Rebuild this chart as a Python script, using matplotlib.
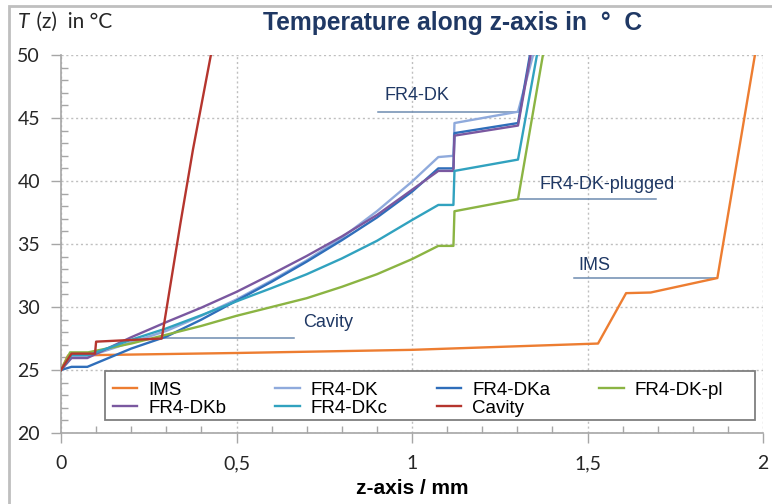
import matplotlib
matplotlib.use("Agg")
import matplotlib.pyplot as plt
from matplotlib.patches import Rectangle
from matplotlib.ticker import MultipleLocator

# ---------------- data ----------------
ims_z = [0, 0.02, 0.5, 1.0, 1.53, 1.61, 1.68, 1.87, 1.977]
ims_t = [25, 26.15, 26.35, 26.6, 27.1, 31.1, 31.15, 32.3, 50]

dk_z = [0, 0.03, 0.08, 0.2, 0.3, 0.4, 0.5, 0.6, 0.7, 0.8, 0.9, 1.0, 1.075, 1.118, 1.121, 1.302, 1.345]
dk_t = [25, 26.1, 26.1, 27.2, 28.1, 29.3, 30.6, 32.1, 33.7, 35.5, 37.6, 39.95, 41.9, 42.0, 44.6, 45.5, 50]

dka_z = [0, 0.03, 0.075, 0.2, 0.3, 0.4, 0.5, 0.6, 0.7, 0.8, 0.9, 1.0, 1.075, 1.118, 1.121, 1.302, 1.336]
dka_t = [25, 25.25, 25.25, 26.7, 27.65, 29.0, 30.5, 32.0, 33.6, 35.3, 37.1, 39.15, 41.0, 41.0, 43.8, 44.6, 50]

dkpl_z = [0, 0.026, 0.077, 0.2, 0.3, 0.4, 0.5, 0.6, 0.7, 0.8, 0.9, 1.0, 1.075, 1.118, 1.121, 1.302, 1.373]
dkpl_t = [25, 26.4, 26.4, 27.1, 27.8, 28.5, 29.3, 30.0, 30.7, 31.6, 32.6, 33.8, 34.85, 34.85, 37.6, 38.55, 50]

dkb_z = [0, 0.03, 0.075, 0.2, 0.3, 0.4, 0.5, 0.6, 0.7, 0.8, 0.9, 1.0, 1.075, 1.118, 1.121, 1.302, 1.338]
dkb_t = [25, 25.95, 25.95, 27.6, 28.8, 29.95, 31.2, 32.6, 34.05, 35.6, 37.3, 39.3, 40.8, 40.8, 43.6, 44.4, 50]

dkc_z = [0, 0.03, 0.08, 0.2, 0.3, 0.4, 0.5, 0.6, 0.7, 0.8, 0.9, 1.0, 1.075, 1.118, 1.121, 1.302, 1.356]
dkc_t = [25, 26.2, 26.2, 27.4, 28.3, 29.35, 30.45, 31.5, 32.6, 33.85, 35.25, 36.9, 38.1, 38.1, 40.8, 41.7, 50]

cav_z = [0, 0.03, 0.097, 0.1, 0.287, 0.305, 0.34, 0.376, 0.427]
cav_t = [25, 26.3, 26.3, 27.25, 27.5, 30.6, 36.6, 42.5, 50]

series_names = ["IMS", "FR4-DK", "FR4-DKa", "FR4-DK-pl", "FR4-DKb", "FR4-DKc", "Cavity"]
series_colors = ["#ED7D31", "#8FAADC", "#2F6EBA", "#8BB443", "#7A58A0", "#31A2BF", "#B5352E"]

x_ticks = [0, 0.5, 1, 1.5, 2]
x_tick_labels = ["0", "0,5", "1", "1,5", "2"]
y_ticks = [20, 25, 30, 35, 40, 45, 50]

# annotations: label, text x, text y, line x0, line x1, line y
ann_labels = ["FR4-DK", "FR4-DK-plugged", "IMS", "Cavity"]
ann_text_x = [0.923, 1.362, 1.473, 0.69]
ann_text_y = [46.8, 39.76, 33.3, 28.8]
ann_line_x0 = [0.903, 1.305, 1.462, 0.29]
ann_line_x1 = [1.302, 1.695, 1.869, 0.664]
ann_line_y = [45.5, 38.55, 32.3, 27.56]

# ---------------- figure ----------------
fig = plt.figure(figsize=(7.72, 5.04), dpi=100)
ax = fig.add_axes([61/772, 1-433/504, 702/772, 378/504])

sans = ["Liberation Sans", "DejaVu Sans"]
tickfont = ["Lato", "DejaVu Sans"]

data = [(ims_z, ims_t), (dk_z, dk_t), (dka_z, dka_t), (dkpl_z, dkpl_t),
        (dkb_z, dkb_t), (dkc_z, dkc_t), (cav_z, cav_t)]
handles = []
for (zz, tt), name, col in zip(data, series_names, series_colors):
    h, = ax.plot(zz, tt, color=col, lw=1.7, label=name, solid_joinstyle="round", zorder=3)
    handles.append(h)

for lab, tx, ty, x0, x1, ly in zip(ann_labels, ann_text_x, ann_text_y, ann_line_x0, ann_line_x1, ann_line_y):
    ax.plot([x0, x1], [ly, ly], color="#6E8CB0", lw=1.1, zorder=2)
    ax.text(tx, ty, lab, color="#1F3864", fontsize=13, family=sans, va="center", ha="left")

ax.set_xlim(0, 2)
ax.set_ylim(20, 50)
ax.set_xticks(x_ticks)
ax.set_xticklabels(x_tick_labels)
ax.set_yticks(y_ticks)
ax.xaxis.set_minor_locator(MultipleLocator(0.1))
ax.yaxis.set_minor_locator(MultipleLocator(1))
ax.tick_params(which="major", direction="out", length=7, width=1, color="#A6A6A6",
               labelsize=14, labelcolor="#262626")
ax.tick_params(axis="x", which="major", pad=9)
ax.tick_params(axis="y", which="major", pad=8)
ax.tick_params(which="minor", direction="in", length=5, width=1, color="#A6A6A6")
for lbl in ax.get_xticklabels() + ax.get_yticklabels():
    lbl.set_family(tickfont)

ax.grid(True, which="major", linestyle=(0, (1.5, 2)), color="#BFBFBF", lw=1, zorder=0)
for s in ["top", "right"]:
    ax.spines[s].set_visible(False)
for s in ["left", "bottom"]:
    ax.spines[s].set_color("#A6A6A6")
    ax.spines[s].set_linewidth(1.2)

# legend frame drawn as a box, legend entries placed inside
ax.add_patch(Rectangle((44/702, 13/378), 650/702, 49/378, transform=ax.transAxes,
                       facecolor="white", edgecolor="#7F7F7F", lw=1.3, zorder=4, clip_on=False))
order = [0, 4, 1, 5, 2, 6, 3]
leg = ax.legend([handles[i] for i in order], [series_names[i] for i in order],
                ncol=4, loc="center left", bbox_to_anchor=(52/702, 34/378),
                borderaxespad=0, borderpad=0, frameon=False,
                prop={"family": sans, "size": 13.5},
                handlelength=1.3, handletextpad=0.6, columnspacing=2.6, labelspacing=0.05)
leg.set_zorder(5)

ax.set_xlabel("z-axis / mm", fontsize=15, fontweight="bold", family=sans, color="black", labelpad=5)

fig.text(263/772, 1-23/504, "Temperature along z-axis in  °  C", fontsize=17.7,
         fontweight="bold", color="#1F3864", family=sans, ha="left", va="center")
fig.text(18/772, 1-22/504, "T", fontsize=15, style="italic", color="#262626", family=tickfont,
         ha="left", va="center")
fig.text(31/772, 1-22/504, " (z)  in °C", fontsize=15, color="#262626", family=tickfont, ha="left", va="center")

fig.patches.append(Rectangle((9/772, -0.05), 1.1, 1-6/504+0.05, transform=fig.transFigure,
                             fill=False, edgecolor="#BFBFBF", lw=2))

fig.savefig("out.png", dpi=100)
